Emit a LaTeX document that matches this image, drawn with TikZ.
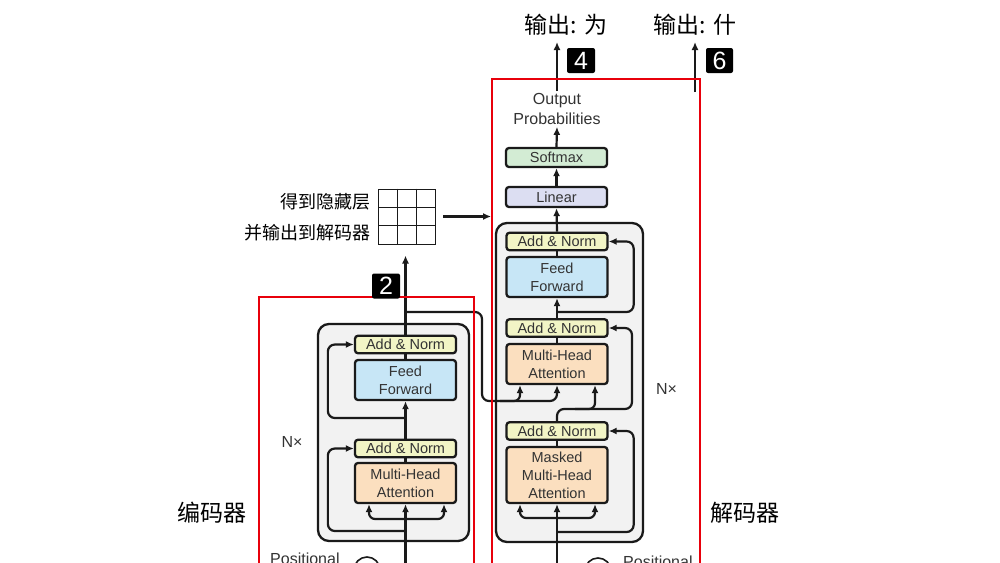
\documentclass[tikz,border=0pt]{standalone}
\usepackage{fontspec}
\setmainfont{Liberation Sans}
\newfontfamily\cjk{Noto Sans CJK SC}
\usetikzlibrary{arrows.meta,calc}
\definecolor{ink}{HTML}{1A1A1A}
\definecolor{txt}{HTML}{333333}
\definecolor{anfill}{HTML}{F2F5C6}
\definecolor{fffill}{HTML}{C7E6F6}
\definecolor{mhafill}{HTML}{FBDFBF}
\definecolor{linfill}{HTML}{DCDEF2}
\definecolor{smfill}{HTML}{D3ECD4}
\definecolor{blkfill}{HTML}{F2F2F2}
\definecolor{redc}{HTML}{E8000B}
\begin{document}
\begin{tikzpicture}[x=1pt,y=-1pt,
  box/.style={draw=ink, line width=2.3pt, rounded corners=3pt, text=txt,
    font=\fontsize{14.5}{18}\selectfont, inner sep=0pt, minimum width=101pt, align=center},
  anbox/.style={box, fill=anfill, minimum height=17.5pt},
  ffbox/.style={box, fill=fffill, minimum height=40pt},
  mhabox/.style={box, fill=mhafill, minimum height=40pt},
  graybox/.style={draw=ink, line width=2.3pt, fill=blkfill, rounded corners=11pt, inner sep=0pt},
  redbox/.style={draw=redc, line width=1.8pt, inner sep=0pt},
  badge/.style={fill=black, rounded corners=2pt, text=white, font=\fontsize{25}{25}\selectfont,
    minimum width=28pt, minimum height=25pt, inner sep=0pt},
  conn/.style={draw=ink, line width=2.2pt},
  arr/.style={conn, -{Latex[length=8pt,width=7pt]}},
  cjkl/.style={text=black, font=\cjk\fontsize{23}{23}\selectfont, inner sep=0pt},
  cjks/.style={text=black, font=\cjk\fontsize{18}{18}\selectfont, inner sep=0pt, anchor=east},
  plain/.style={text=txt, font=\fontsize{16}{20}\selectfont, inner sep=0pt, align=center},
]
\useasboundingbox (0,0) rectangle (1000,562);
\clip (0,0) rectangle (1000,562);
\fill[white] (0,0) rectangle (1000,562);

% ---------- blocks ----------
\node[graybox, minimum width=151pt, minimum height=217pt] (encBlk) at (393.5,432.5) {};
\node[graybox, minimum width=147pt, minimum height=319pt] (decBlk) at (569.5,382.5) {};

% encoder
\node[anbox]  (encAN2) at (405.5,344.5) {Add \& Norm};
\node[ffbox]  (encFF)  at (405.5,380) {Feed\\Forward};
\node[anbox]  (encAN1) at (405.5,448.5) {Add \& Norm};
\node[mhabox] (encMHA) at (405.5,483) {Multi-Head\\Attention};

% decoder
\node[anbox]  (decAN3) at (557,241.5) {Add \& Norm};
\node[ffbox]  (decFF)  at (557,277) {Feed\\Forward};
\node[anbox]  (decAN2) at (557,328) {Add \& Norm};
\node[mhabox] (decMHA) at (557,364) {Multi-Head\\Attention};
\node[anbox]  (decAN1) at (557,431) {Add \& Norm};
\node[mhabox, minimum height=56pt] (decMMHA) at (557,475) {Masked\\Multi-Head\\Attention};
\node[box, fill=linfill, minimum height=20pt] (lin) at (556.5,197) {Linear};
\node[box, fill=smfill, minimum height=19pt] (soft) at (556.5,157.5) {Softmax};
\node[plain, inner sep=2pt] (outprob) at (557,109) {Output\\Probabilities};

% labels
\node[plain] (encN) at (292,442) {N×};
\node[plain] (decN) at (666.5,389) {N×};
\node[cjkl] (encLbl) at (212,513) {编码器};
\node[cjkl] (decLbl) at (745,513) {解码器};
\node[cjkl] (out1) at (566,25) {输出: 为};
\node[cjkl] (out2) at (695,25) {输出: 什};
\node[cjks] (h1) at (371,202) {得到隐藏层};
\node[cjks] (h2) at (371,233) {并输出到解码器};

% positional encodings (cut off at bottom, as in the reference)
\node[plain, anchor=base west] (encPos) at (270,564.5) {Positional};
\node[plain, anchor=base west] (decPos) at (623,567.5) {Positional};
\node[draw=ink, line width=1.6pt, circle, minimum size=26pt, inner sep=0pt] (encAdd) at (367,570) {};
\node[draw=ink, line width=1.6pt, circle, minimum size=26pt, inner sep=0pt] (decAdd) at (598,571) {};

% hidden-state grid
\node[draw=ink, line width=1pt, minimum width=57pt, minimum height=55pt, inner sep=0pt] (grid) at (407,216.5) {};
\foreach \f in {1/3,2/3}{
  \draw[ink, line width=0.9pt] ($(grid.north west)!\f!(grid.north east)$) -- ($(grid.south west)!\f!(grid.south east)$);
  \draw[ink, line width=0.9pt] ($(grid.north west)!\f!(grid.south west)$) -- ($(grid.north east)!\f!(grid.south east)$);
}

% ---------- coordinates ----------
\coordinate (encIn) at (405.5,600);
\coordinate (decIn) at (557,600);
\coordinate (eRes1) at (405.5,531);
\coordinate (eRes2) at (405.5,418);
\coordinate (eFork) at (405.5,519);
\coordinate (eOut)  at (405.5,312);
\coordinate (dRes1) at (557,532);
\coordinate (dFork) at (557,518);
\coordinate (dRes3) at (557,312);
\coordinate (out6)  at (695,92);
\coordinate (tip4)  at (557,42);
\coordinate (tip6)  at (695,42);

% ---------- encoder connectors ----------
\draw[arr] (encIn) -- (encMHA.south);
\draw[arr, rounded corners=6pt] (eFork) -| ([xshift=-36.5pt]encMHA.south);
\draw[arr, rounded corners=6pt] (eFork) -| ([xshift=38.5pt]encMHA.south);
\draw[arr, rounded corners=7pt] (eRes1) -| ([xshift=-26pt]encAN1.west) -- (encAN1.west);
\draw[conn] (encMHA.north) -- (encAN1.south);
\draw[arr] (encAN1.north) -- (encFF.south);
\draw[arr, rounded corners=7pt] (eRes2) -| ([xshift=-26pt]encAN2.west) -- (encAN2.west);
\draw[conn] (encFF.north) -- (encAN2.south);
\draw[arr] (encAN2.north) -- ([yshift=-11pt]encAN2.north |- grid.south);

% encoder -> decoder
\draw[arr, rounded corners=7pt] (eOut) -| (482,401) -| (decMHA.south);
\draw[arr, rounded corners=6pt] (500,401) -| ([xshift=-37pt]decMHA.south);

% ---------- decoder connectors ----------
\draw[arr] (decIn) -- (decMMHA.south);
\draw[arr, rounded corners=6pt] (dFork) -| ([xshift=-37pt]decMMHA.south);
\draw[arr, rounded corners=6pt] (dFork) -| ([xshift=38pt]decMMHA.south);
\draw[arr, rounded corners=7pt] (dRes1) -| ([xshift=25pt]decAN1.east) -- (decAN1.east);
\draw[conn] (decMMHA.north) -- (decAN1.south);
\draw[arr, rounded corners=7pt] (decAN1.north) |- (632,409) |- (decAN2.east);
\draw[arr, rounded corners=6pt] (575,409) -| ([xshift=38pt]decMHA.south);
\draw[conn] (decMHA.north) -- (decAN2.south);
\draw[arr] (decAN2.north) -- (decFF.south);
\draw[arr, rounded corners=7pt] (dRes3) -| ([xshift=25pt]decAN3.east) -- (decAN3.east);
\draw[conn] (decFF.north) -- (decAN3.south);
\draw[arr] (decAN3.north) -- (lin.south);
\draw[arr] (lin.north) -- (soft.south);
\draw[arr] (soft.north) -- (outprob.south);
\draw[arr] (outprob.north) -- (tip4);
\draw[arr] (out6) -- (tip6);

% ---------- red frames ----------
\node[redbox, minimum width=215pt, minimum height=323pt] (encRed) at (366.5,458.5) {};
\node[redbox, minimum width=208pt, minimum height=541pt] (decRed) at (596,349.5) {};
\draw[arr] ([xshift=7pt]grid.east) -- (grid.east -| decRed.west);

% ---------- badges ----------
\node[badge] (b2) at (386,286) {2};
\node[badge] (b4) at (581,60.5) {4};
\node[badge, minimum width=27pt] (b6) at (719.5,60.5) {6};
\end{tikzpicture}
\end{document}
